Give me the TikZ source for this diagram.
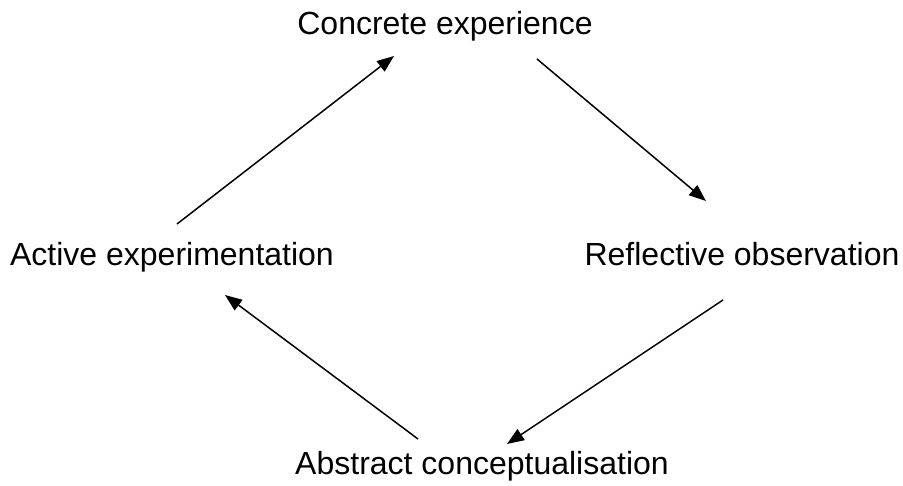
\documentclass[tikz,border=0pt]{standalone}
\usepackage{fontspec}
\setmainfont{Liberation Sans}
\usetikzlibrary{arrows.meta}

\tikzset{
  stage/.style={inner sep=0pt, anchor=base, font=\fontsize{32}{38}\selectfont},
  flow/.style={line width=1.5pt, -{Triangle[length=17pt,width=13pt]}}
}

\begin{document}
\begin{tikzpicture}[x=1pt, y=-1pt]

  \useasboundingbox (0, 0) rectangle (903, 486);

  \node [stage] (concrete) at (445, 35) {Concrete experience};
  \node [stage] (reflective) at (742, 266) {Reflective observation};
  \node [stage] (abstract) at (482, 475) {Abstract conceptualisation};
  \node [stage] (active) at (172, 266) {Active experimentation};

  \draw[flow] ([shift={(92, 24)}]concrete.base) -- ([shift={(-36, -65)}]reflective.base);
  \draw[flow] ([shift={(-19, 34)}]reflective.base) -- ([shift={(25, -31)}]abstract.base);
  \draw[flow] ([shift={(-64, -36)}]abstract.base) -- ([shift={(53, 29)}]active.base);
  \draw[flow] ([shift={(5, -42)}]active.base) -- ([shift={(-51, 21)}]concrete.base);

\end{tikzpicture}
\end{document}
